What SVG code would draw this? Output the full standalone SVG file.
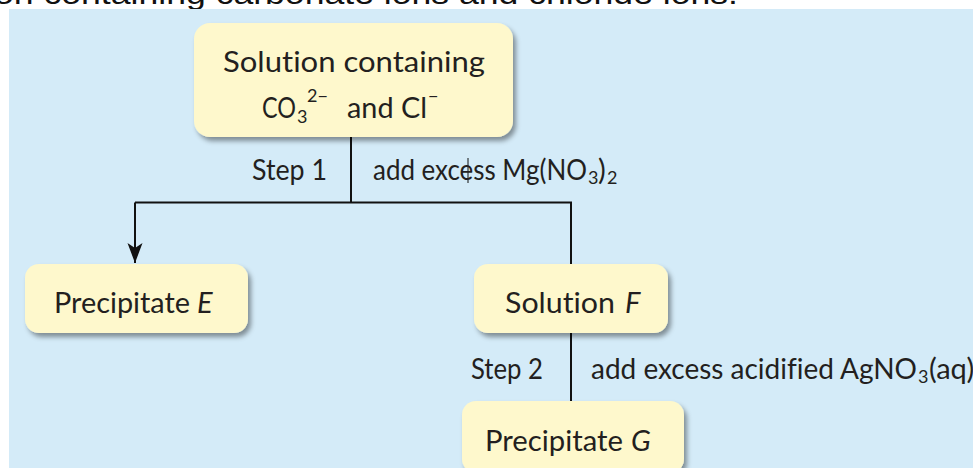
<svg xmlns="http://www.w3.org/2000/svg" width="973" height="468" viewBox="0 0 973 468">
<defs>
<filter id="sh" x="-10%" y="-20%" width="130%" height="150%">
<feDropShadow dx="3" dy="4" stdDeviation="2.5" flood-color="#000" flood-opacity="0.4"/>
</filter>
<marker id="ah" markerUnits="userSpaceOnUse" markerWidth="21" markerHeight="16" refX="20" refY="7.5" orient="auto" viewBox="0 0 21 16">
<path d="M0,0 L20,7.5 L0,15 L5,7.5 Z" fill="#111"/>
</marker>
</defs>
<style>
.box{fill:#FEF8CC;filter:url(#sh);}
.t{font-family:Lato,"Open Sans",sans-serif;font-size:29px;fill:#231F20;font-variant-ligatures:none;}
.s{font-size:18px;}
.i{font-style:italic;}
.c{fill:none;stroke:#111;stroke-width:2;}
</style>
<text x="-6" y="4" font-family="'Liberation Sans',sans-serif" font-size="29" fill="#111" textLength="744" lengthAdjust="spacingAndGlyphs">on containing carbonate ions and chloride ions.</text>
<rect x="9" y="9" width="964" height="459" fill="#D4EBF8"/>
<g id="connectors">
<path class="c" d="M351 137 V202.5"/>
<path class="c" d="M135 202.5 H571 V264"/>
<path class="c" d="M135 202.5 V263" marker-end="url(#ah)"/>
<path class="c" d="M571 333 V401"/>
<line x1="468" y1="158" x2="468" y2="183" stroke="#111" stroke-width="1"/>
</g>
<g id="n-solution">
<rect class="box" x="194" y="23" width="319" height="114" rx="16"/>
<text class="t" x="223" y="72" textLength="262" lengthAdjust="spacingAndGlyphs">Solution containing</text>
<text class="t" x="262" y="118" textLength="34" lengthAdjust="spacingAndGlyphs">CO</text>
<text class="t s" x="297" y="123">3</text>
<text class="t s" x="307" y="102">2−</text>
<text class="t" x="347" y="118" textLength="80" lengthAdjust="spacingAndGlyphs">and Cl</text>
<text class="t s" x="428" y="102">−</text>
</g>
<g id="step1">
<text class="t" x="252" y="180" textLength="75" lengthAdjust="spacingAndGlyphs">Step 1</text>
<text class="t" x="373" y="180" textLength="214" lengthAdjust="spacingAndGlyphs">add excess Mg(NO</text>
<text class="t s" x="588" y="184">3</text>
<text class="t" x="598" y="180">)</text>
<text class="t s" x="607" y="184">2</text>
</g>
<g id="n-precipE">
<rect class="box" x="25" y="264" width="223" height="69" rx="14"/>
<text class="t" x="54" y="313" textLength="136" lengthAdjust="spacingAndGlyphs">Precipitate</text>
<text class="t i" x="197" y="313">E</text>
</g>
<g id="n-solF">
<rect class="box" x="474" y="264" width="194" height="69" rx="14"/>
<text class="t" x="505" y="313" textLength="110" lengthAdjust="spacingAndGlyphs">Solution</text>
<text class="t i" x="625" y="313">F</text>
</g>
<g id="step2">
<text class="t" x="471" y="379" textLength="72" lengthAdjust="spacingAndGlyphs">Step 2</text>
<text class="t" x="591" y="379" textLength="326" lengthAdjust="spacingAndGlyphs">add excess acidified AgNO</text>
<text class="t s" x="918" y="383">3</text>
<text class="t" x="929" y="379">(aq)</text>
</g>
<g id="n-precipG">
<rect class="box" x="462" y="401" width="222" height="72" rx="14"/>
<text class="t" x="485" y="451" textLength="138" lengthAdjust="spacingAndGlyphs">Precipitate</text>
<text class="t i" x="631" y="451">G</text>
</g>
</svg>
